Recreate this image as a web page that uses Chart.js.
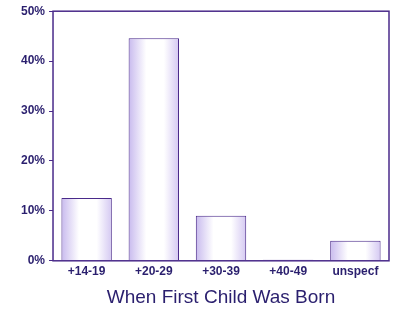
<!DOCTYPE html>
<html>
<head>
<meta charset="utf-8">
<script src="https://cdn.jsdelivr.net/npm/chart.js@4"></script>
<style>
  html, body { margin: 0; padding: 0; background: #fff; }
  #wrap { width: 393px; height: 309px; position: relative; }
</style>
</head>
<body>
<div id="wrap"><canvas id="chart"></canvas></div>
<script>
const categories = ['+14-19', '+20-29', '+30-39', '+40-49', 'unspecf'];
const shares = [12.6, 44.6, 9.0, 0.2, 4.0];
const yTicks = [0, 10, 20, 30, 40, 50];

const lineColor = '#4a2a8a';
const textColor = '#2a1f6e';

const barGradient = (context) => {
    const chart = context.chart;
    const area = chart.chartArea;
    if (!area) return '#e6defa';
    const xScale = chart.scales.x;
    const cx = xScale.getPixelForValue(context.dataIndex);
    const half = (xScale.width / categories.length) * 0.75 / 2;
    const g = chart.ctx.createLinearGradient(cx - half, 0, cx + half, 0);
    g.addColorStop(0, '#c8baee');
    g.addColorStop(0.35, '#ffffff');
    g.addColorStop(0.7, '#ffffff');
    g.addColorStop(1, '#d4c8f2');
    return g;
};

const frame = {
    id: 'frame',
    afterDatasetsDraw(chart) {
        const { ctx, chartArea: a } = chart;
        ctx.save();
        ctx.strokeStyle = lineColor;
        ctx.lineWidth = 1.5;
        ctx.strokeRect(a.left, a.top, a.right - a.left, a.bottom - a.top);
        ctx.restore();
    }
};

new Chart(document.getElementById('chart'), {
    type: 'bar',
    data: {
        labels: categories,
        datasets: [{
            data: shares,
            backgroundColor: barGradient,
            borderColor: lineColor,
            borderWidth: 1,
            categoryPercentage: 0.75,
            barPercentage: 1.0
        }]
    },
    options: {
        responsive: true,
        maintainAspectRatio: false,
        animation: false,
        layout: { padding: { top: 11, right: 4, left: 17, bottom: 0 } },
        plugins: { legend: { display: false }, tooltip: { enabled: false } },
        scales: {
            x: {
                grid: { display: false, drawTicks: false },
                border: { display: false },
                ticks: { color: textColor, font: { family: 'Liberation Sans', size: 12, weight: 'bold' }, padding: 4 },
                title: {
                    display: true,
                    text: 'When First Child Was Born',
                    color: textColor,
                    font: { family: 'Liberation Sans', size: 19 },
                    padding: { top: 3, bottom: 0 }
                }
            },
            y: {
                min: 0,
                max: 50,
                afterBuildTicks: (axis) => { axis.ticks = yTicks.map(v => ({ value: v })); },
                grid: { drawOnChartArea: false, tickLength: 4, color: lineColor },
                border: { display: false },
                ticks: {
                    color: textColor,
                    font: { family: 'Liberation Sans', size: 12, weight: 'bold' },
                    padding: 4,
                    callback: (v) => v + '%'
                }
            }
        }
    },
    plugins: [frame]
});
</script>
</body>
</html>
